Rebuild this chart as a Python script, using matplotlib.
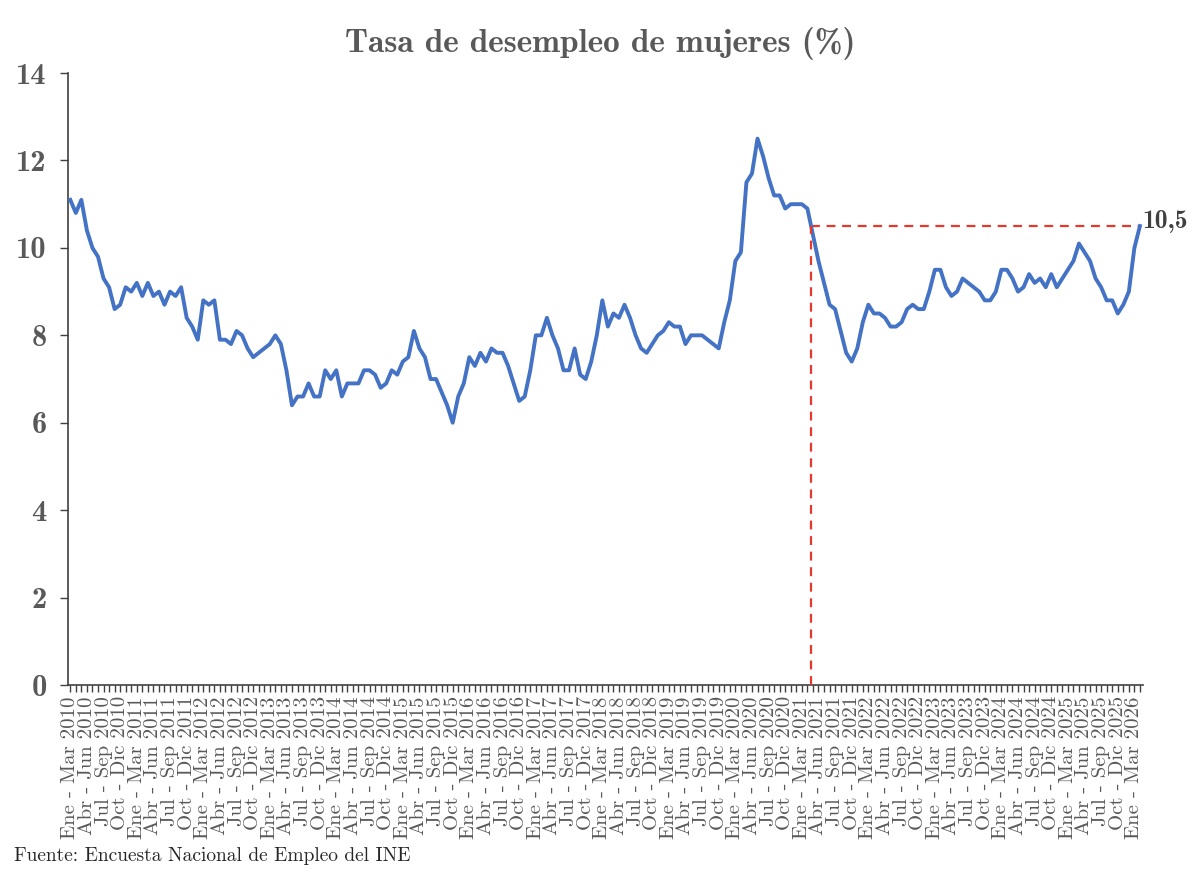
import matplotlib
matplotlib.use("Agg")
import matplotlib.pyplot as plt

# Tasa de desempleo de mujeres, trimestres móviles (INE), desde Ene-Mar 2010
meses = ['Ene', 'Feb', 'Mar', 'Abr', 'May', 'Jun',
         'Jul', 'Ago', 'Sep', 'Oct', 'Nov', 'Dic']
anio_inicio = 2010

tasa = [
    11.1, 10.8, 11.1, 10.4, 10.0, 9.8, 9.3, 9.1, 8.6, 8.7, 9.1, 9.0,   # 2010
    9.2, 8.9, 9.2, 8.9, 9.0, 8.7, 9.0, 8.9, 9.1, 8.4, 8.2, 7.9,        # 2011
    8.8, 8.7, 8.8, 7.9, 7.9, 7.8, 8.1, 8.0, 7.7, 7.5, 7.6, 7.7,        # 2012
    7.8, 8.0, 7.8, 7.2, 6.4, 6.6, 6.6, 6.9, 6.6, 6.6, 7.2, 7.0,        # 2013
    7.2, 6.6, 6.9, 6.9, 6.9, 7.2, 7.2, 7.1, 6.8, 6.9, 7.2, 7.1,        # 2014
    7.4, 7.5, 8.1, 7.7, 7.5, 7.0, 7.0, 6.7, 6.4, 6.0, 6.6, 6.9,        # 2015
    7.5, 7.3, 7.6, 7.4, 7.7, 7.6, 7.6, 7.3, 6.9, 6.5, 6.6, 7.2,        # 2016
    8.0, 8.0, 8.4, 8.0, 7.7, 7.2, 7.2, 7.7, 7.1, 7.0, 7.4, 8.0,        # 2017
    8.8, 8.2, 8.5, 8.4, 8.7, 8.4, 8.0, 7.7, 7.6, 7.8, 8.0, 8.1,        # 2018
    8.3, 8.2, 8.2, 7.8, 8.0, 8.0, 8.0, 7.9, 7.8, 7.7, 8.3, 8.8,        # 2019
    9.7, 9.9, 11.5, 11.7, 12.5, 12.1, 11.6, 11.2, 11.2, 10.9, 11.0, 11.0,  # 2020
    11.0, 10.9, 10.3, 9.7, 9.2, 8.7, 8.6, 8.1, 7.6, 7.4, 7.7, 8.3,     # 2021
    8.7, 8.5, 8.5, 8.4, 8.2, 8.2, 8.3, 8.6, 8.7, 8.6, 8.6, 9.0,        # 2022
    9.5, 9.5, 9.1, 8.9, 9.0, 9.3, 9.2, 9.1, 9.0, 8.8, 8.8, 9.0,        # 2023
    9.5, 9.5, 9.3, 9.0, 9.1, 9.4, 9.2, 9.3, 9.1, 9.4, 9.1, 9.3,        # 2024
    9.5, 9.7, 10.1, 9.9, 9.7, 9.3, 9.1, 8.8, 8.8, 8.5, 8.7, 9.0,       # 2025
    10.0, 10.5,                                                        # 2026
]

# etiquetas "Ene - Mar 2010", "Feb - Abr 2010", ...
categorias = []
for i in range(len(tasa)):
    m = i % 12
    anio = anio_inicio + (i + 2) // 12
    categorias.append(f"{meses[m]} - {meses[(m + 2) % 12]} {anio}")

titulo = "Tasa de desempleo de mujeres (%)"
fuente = "Fuente: Encuesta Nacional de Empleo del INE"

azul = '#4472C4'
rojo = '#E8382E'
gris = '#595959'

n = len(tasa)
x = list(range(n))
ultimo = tasa[-1]

# punto donde la serie cruzó por última vez el valor actual
k = n - 2
while k > 0 and tasa[k] < ultimo:
    k -= 1
cruce = k + (tasa[k] - ultimo) / (tasa[k] - tasa[k + 1])

fig = plt.figure(figsize=(12, 8.77), dpi=100)
ax = fig.add_axes([0.05625, 0.2189, 0.896, 0.6978])

ax.plot(x, tasa, color=azul, lw=2.8, solid_joinstyle='round', zorder=3)
ax.plot([cruce, cruce], [0, ultimo], color=rojo, lw=1.6, ls=(0, (4, 3)), zorder=4, clip_on=False)
ax.plot([cruce, n - 1], [ultimo, ultimo], color=rojo, lw=1.6, ls=(0, (4, 3)), zorder=2)

ax.annotate(f"{ultimo:.1f}".replace('.', ','), xy=(n - 1, ultimo), xytext=(2, 3),
            textcoords='offset points', ha='left', va='center',
            fontfamily='cmb10', fontsize=18.5, color='#404040', annotation_clip=False)

ax.set_xlim(-0.5, n - 0.5)
ax.set_ylim(0, 14)

ax.set_yticks(range(0, 15, 2))
ax.set_yticklabels([str(v) for v in range(0, 15, 2)], fontfamily='cmb10', fontsize=22, color=gris)

ax.set_xticks(range(0, n, 3))
ax.set_xticklabels(categorias[::3], rotation=90, ha='center', va='top',
                   fontfamily='cmr10', fontsize=15, color=gris)
ax.set_xticks(range(n), minor=True)

ax.tick_params(axis='x', which='both', direction='out', length=5, width=1, color='#404040', pad=3)
ax.tick_params(axis='y', direction='out', length=6, width=1, color='#404040', pad=9)

for s in ['top', 'right']:
    ax.spines[s].set_visible(False)
for s in ['left', 'bottom']:
    ax.spines[s].set_color('#404040')
    ax.spines[s].set_linewidth(1.2)

fig.text(0.5, 1 - 43 / 877, titulo, ha='center', va='center',
         fontfamily='cmb10', fontsize=24, color=gris)
fig.text(14 / 1200, 1 - 856 / 877, fuente, ha='left', va='center',
         fontfamily='cmr10', fontsize=14, color='#262626')

fig.savefig('out.png', dpi=100, facecolor='white')
